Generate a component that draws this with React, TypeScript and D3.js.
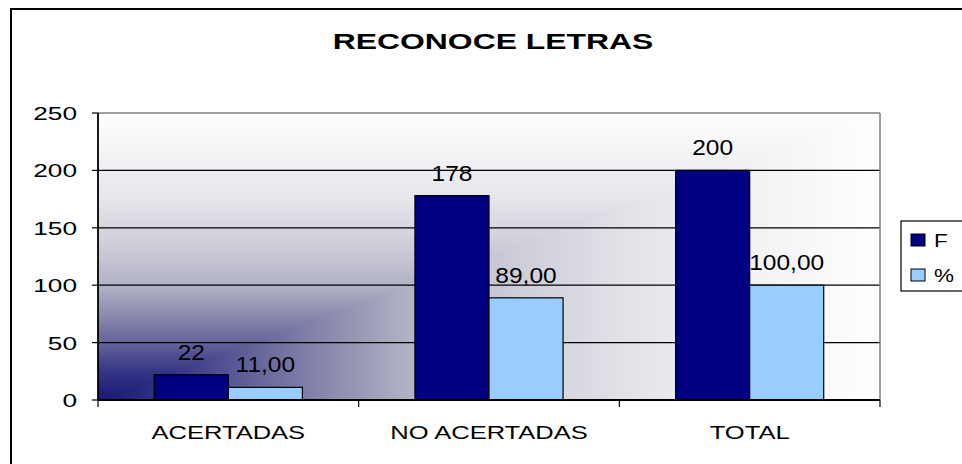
import React from "react";
import * as d3 from "d3";

const categories = ["ACERTADAS", "NO ACERTADAS", "TOTAL"];
const seriesNames = ["F", "%"];
const valuesF = [22, 178, 200];
const valuesPct = [11, 89, 100];
const yTicks = [0, 50, 100, 150, 200, 250];
const title = "RECONOCE LETRAS";

const W = 962;
const H = 464;
const plot = { left: 98, right: 880, top: 113, bottom: 400 };
const colors = ["#000080", "#99CCFF"];
const FONT = "'Liberation Sans', Arial, sans-serif";

const gradStops: [number, string][] = [
  [0, "#181876"],
  [0.1, "#363686"],
  [0.2, "#64649a"],
  [0.3, "#8c8cae"],
  [0.4, "#b2b2c6"],
  [0.55, "#d0d0db"],
  [0.7, "#e5e5eb"],
  [0.85, "#f3f3f6"],
  [1, "#ffffff"],
];

function fmtPct(v: number) {
  return d3.format(".2f")(v).replace(".", ",");
}

function STxt(props: {
  x: number;
  y: number;
  sx: number;
  size: number;
  anchor?: string;
  bold?: boolean;
  children: React.ReactNode;
}) {
  const { x, y, sx, size, anchor = "middle", bold = false, children } = props;
  return (
    <text
      transform={`translate(${x},${y}) scale(${sx},1)`}
      textAnchor={anchor as any}
      fontFamily={FONT}
      fontSize={size}
      fontWeight={bold ? "bold" : "normal"}
      fill="#000"
    >
      {children}
    </text>
  );
}

export default function App() {
  const x0 = d3.scaleBand<string>().domain(categories).range([plot.left, plot.right]).padding(0);
  const x1 = d3
    .scaleBand<string>()
    .domain(seriesNames)
    .range([0, x0.bandwidth()])
    .paddingInner(0)
    .paddingOuter(0.76);
  const y = d3.scaleLinear().domain([0, 250]).range([plot.bottom, plot.top]);

  const data = categories.map((c, i) => ({
    cat: c,
    vals: [
      { s: "F", v: valuesF[i], label: String(valuesF[i]) },
      { s: "%", v: valuesPct[i], label: fmtPct(valuesPct[i]) },
    ],
  }));

  const catBounds = [...categories.map((c) => x0(c)!), plot.right];

  return (
    <svg
      width={W}
      height={H}
      style={{ position: "absolute", left: 0, top: 0, display: "block", background: "#fff" }}
    >
      <defs>
        <linearGradient id="gv" gradientUnits="userSpaceOnUse" x1={0} y1={plot.bottom} x2={0} y2={plot.top}>
          {gradStops.map(([o, c]) => (
            <stop key={o} offset={o} stopColor={c} />
          ))}
        </linearGradient>
        <linearGradient id="gh" gradientUnits="userSpaceOnUse" x1={plot.left} y1={0} x2={plot.right} y2={0}>
          {gradStops.map(([o, c]) => (
            <stop key={o} offset={o} stopColor={c} />
          ))}
        </linearGradient>
      </defs>

      {/* outer chart border */}
      <rect x={11} y={9} width={W + 20} height={H + 20} fill="#fff" stroke="#000" strokeWidth={2} />

      {/* plot background: corner gradient */}
      <rect
        x={plot.left}
        y={plot.top}
        width={plot.right - plot.left}
        height={plot.bottom - plot.top}
        fill="url(#gv)"
      />
      <polygon
        points={`${plot.left},${plot.bottom} ${plot.right},${plot.top} ${plot.right},${plot.bottom}`}
        fill="url(#gh)"
        shapeRendering="crispEdges"
      />

      {/* gridlines */}
      {yTicks
        .filter((t) => t > 0 && t < 250)
        .map((t) => (
          <line key={t} x1={plot.left} x2={plot.right} y1={y(t)} y2={y(t)} stroke="#000" strokeWidth={1.2} />
        ))}
      {/* top & right plot border */}
      <line x1={plot.left} x2={plot.right} y1={y(250)} y2={y(250)} stroke="#808080" strokeWidth={1.5} />
      <line x1={plot.right} x2={plot.right} y1={plot.top} y2={plot.bottom} stroke="#808080" strokeWidth={1.5} />

      {/* bars */}
      {data.map((d) =>
        d.vals.map((b, j) => {
          const bx = x0(d.cat)! + x1(b.s)!;
          const by = y(b.v);
          return (
            <rect
              key={d.cat + b.s}
              x={bx}
              y={by}
              width={x1.bandwidth()}
              height={plot.bottom - by}
              fill={colors[j]}
              stroke="#000"
              strokeWidth={1.2}
            />
          );
        })
      )}

      {/* data labels */}
      {data.map((d) =>
        d.vals.map((b) => {
          const cx = x0(d.cat)! + x1(b.s)! + x1.bandwidth() / 2;
          return (
            <STxt key={"l" + d.cat + b.s} x={cx} y={y(b.v) - 15} sx={1.14} size={21.5}>
              {b.label}
            </STxt>
          );
        })
      )}

      {/* y axis */}
      <line x1={plot.left} x2={plot.left} y1={plot.top} y2={plot.bottom} stroke="#000" strokeWidth={1.8} />
      {yTicks.map((t) => (
        <g key={"yt" + t}>
          <line x1={plot.left - 6} x2={plot.left} y1={y(t)} y2={y(t)} stroke="#000" strokeWidth={1.2} />
          <STxt x={77} y={y(t) + 7} sx={1.42} size={18.5} anchor="end">
            {t}
          </STxt>
        </g>
      ))}

      {/* x axis */}
      <line x1={plot.left} x2={plot.right} y1={plot.bottom} y2={plot.bottom} stroke="#000" strokeWidth={1.8} />
      {catBounds.map((bx, i) => (
        <line key={"xt" + i} x1={bx} x2={bx} y1={plot.bottom} y2={plot.bottom + 7} stroke="#000" strokeWidth={1.2} />
      ))}
      {categories.map((c) => (
        <STxt key={"xl" + c} x={x0(c)! + x0.bandwidth() / 2} y={439} sx={1.38} size={18.5}>
          {c}
        </STxt>
      ))}

      {/* title */}
      <STxt x={493} y={49} sx={1.45} size={22} bold>
        {title}
      </STxt>

      {/* legend */}
      <rect x={901} y={221} width={80} height={70} fill="#fff" stroke="#000" strokeWidth={1.2} />
      {seriesNames.map((s, i) => {
        const ly = 240 + i * 35;
        return (
          <g key={"lg" + s}>
            <rect x={911} y={ly - 6} width={14} height={12} fill={colors[i]} stroke="#000" strokeWidth={1} />
            <STxt x={934} y={ly + 7} sx={1.25} size={18} anchor="start">
              {s}
            </STxt>
          </g>
        );
      })}
    </svg>
  );
}
